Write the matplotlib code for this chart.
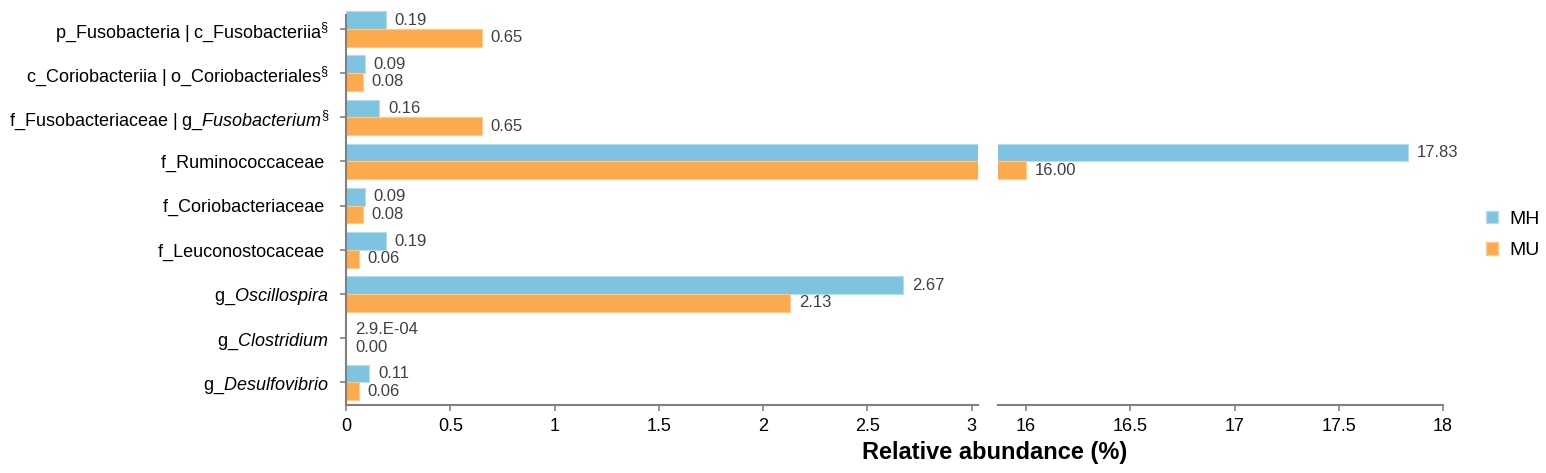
import numpy as np
from matplotlib import pyplot as plt
from matplotlib.patches import Rectangle, Patch

plt.rcParams['font.family'] = ['Liberation Sans', 'DejaVu Sans']
plt.rcParams['mathtext.fontset'] = 'custom'
plt.rcParams['mathtext.rm'] = 'Liberation Sans'
plt.rcParams['mathtext.it'] = 'Liberation Sans:italic'
plt.rcParams['mathtext.bf'] = 'Liberation Sans:bold'

#Data
taxa = [r'p_Fusobacteria | c_Fusobacteriia$^{\S}$',
        r'c_Coriobacteriia | o_Coriobacteriales$^{\S}$',
        r'f_Fusobacteriaceae | g_$\mathit{Fusobacterium}$$^{\S}$',
        'f_Ruminococcaceae ',
        'f_Coriobacteriaceae ',
        'f_Leuconostocaceae ',
        r'g_$\mathit{Oscillospira}$ ',
        r'g_$\mathit{Clostridium}$ ',
        r'g_$\mathit{Desulfovibrio}$ ']
mh = [0.19, 0.09, 0.16, 17.83, 0.09, 0.19, 2.67, 2.9e-4, 0.11]
mu = [0.65, 0.08, 0.65, 16.00, 0.08, 0.06, 2.13, 0.00, 0.06]
mh_txt = ['0.19', '0.09', '0.16', '17.83', '0.09', '0.19', '2.67', '2.9.E-04', '0.11']
mu_txt = ['0.65', '0.08', '0.65', '16.00', '0.08', '0.06', '2.13', '0.00', '0.06']
left_ticks = [0, 0.5, 1, 1.5, 2, 2.5, 3]
right_ticks = [16, 16.5, 17, 17.5, 18]

c_mh = '#7EC4E0'
c_mu = '#FDA94D'
grey = '#808080'

W, H = 1546, 473
fig = plt.figure(figsize=(W/100, H/100), dpi=100)
bot = (H-405)/H
hgt = (405-15)/H
ax1 = fig.add_axes([346/W, bot, 632/W, hgt])
ax2 = fig.add_axes([998/W, bot, 445/W, hgt])

y = np.arange(len(taxa))
for ax, lims in [(ax1, (0, 3.03)), (ax2, (15.865, 18.0))]:
    clip = Rectangle((0, -0.03), 1, 1.06, transform=ax.transAxes, visible=False)
    ax.add_patch(clip)
    b1 = ax.barh(y-0.2, mh, height=0.4, color=c_mh, edgecolor='#B5DDEE', linewidth=0.8)
    b2 = ax.barh(y+0.2, mu, height=0.4, color=c_mu, edgecolor='#FFC98C', linewidth=0.8)
    for b in list(b1)+list(b2):
        b.set_clip_path(clip)
    ax.set_xlim(*lims)
    ax.set_ylim(8.51, -0.315)
    for i in range(len(taxa)):
        for v, t, off in [(mh[i], mh_txt[i], -0.2), (mu[i], mu_txt[i], 0.2)]:
            if lims[0] <= v <= lims[1]:
                ax.annotate(t, (v, y[i]+off), xytext=(6.5, 0), textcoords='offset points',
                            va='center', ha='left', fontsize=12, color='#404040')
    for s in ['top', 'right']:
        ax.spines[s].set_visible(False)
    ax.spines['bottom'].set_color(grey)
    ax.spines['bottom'].set_linewidth(1.5)
    ax.tick_params(axis='x', colors=grey, labelcolor='black', labelsize=13, length=4, width=1.2, pad=5)

ax1.set_xticks(left_ticks)
ax1.set_xticklabels(['0', '0.5', '1', '1.5', '2', '2.5', '3'])
ax2.set_xticks(right_ticks)
ax2.set_xticklabels(['16', '16.5', '17', '17.5', '18'])

ax1.spines['left'].set_color(grey)
ax1.spines['left'].set_linewidth(1.5)
ax1.set_yticks(y)
ax1.set_yticklabels(taxa)
ax1.tick_params(axis='y', colors=grey, labelcolor='black', labelsize=13, length=4, width=1.2, pad=8)

ax2.spines['left'].set_visible(False)
ax2.set_yticks([])

fig.text(995/W, 1-452/H, 'Relative abundance (%)', ha='center', va='center', fontsize=17, fontweight='bold')

handles = [Patch(facecolor=c_mh, edgecolor='#B5DDEE'), Patch(facecolor=c_mu, edgecolor='#FFC98C')]
fig.legend(handles, ['MH', 'MU'], loc='center left', bbox_to_anchor=(1486/W, 1-235/H), frameon=False,
           fontsize=14, handlelength=0.6, handleheight=0.6, handletextpad=0.6, labelspacing=0.75,
           borderpad=0, borderaxespad=0)

plt.savefig('out.png', dpi=100)
